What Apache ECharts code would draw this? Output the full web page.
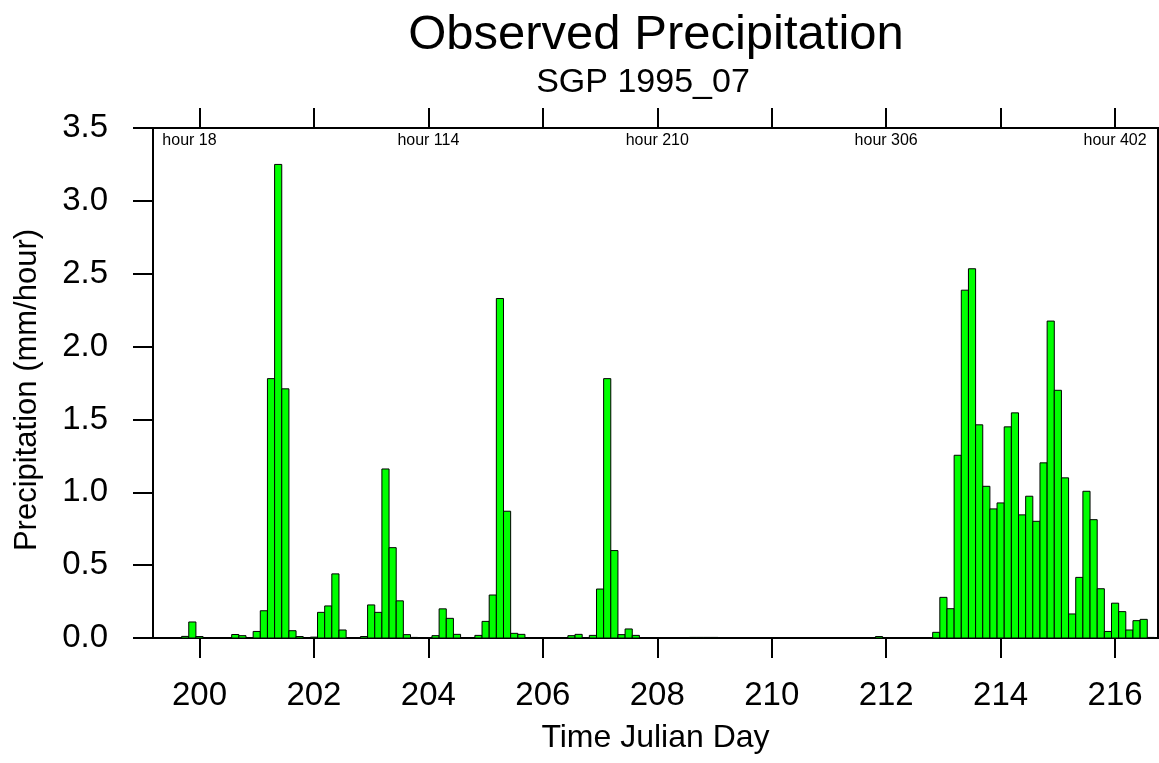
<!DOCTYPE html>
<html>
<head>
<meta charset="utf-8">
<title>Observed Precipitation</title>
<script src="https://cdn.jsdelivr.net/npm/echarts@6/dist/echarts.min.js"></script>
<style>
  html, body { margin: 0; padding: 0; background: #fff; }
  #chart { width: 1159px; height: 763px; }
</style>
</head>
<body>
<div id="chart"></div>
<script>
// 3-hourly bars, first bar centred on hour 0 (Julian day 199.25)
var startDay = 199.25;
var stepDay = 0.125;

// precipitation (mm/hour), one value per 3 hour bin
var precip = [
  0, 0, 0, 0, 0.011, 0.11, 0.01, 0, 0, 0,
  0, 0.024, 0.016, 0, 0.045, 0.187, 1.78, 3.25, 1.71, 0.05,
  0.01, 0, 0.006, 0.176, 0.22, 0.44, 0.055, 0, 0, 0.01,
  0.227, 0.176, 1.16, 0.62, 0.255, 0.023, 0.004, 0, 0, 0.016,
  0.2, 0.135, 0.025, 0, 0, 0.018, 0.114, 0.295, 2.33, 0.87,
  0.032, 0.025, 0, 0, 0, 0, 0, 0, 0.016, 0.025,
  0, 0.018, 0.336, 1.78, 0.6, 0.023, 0.062, 0.018, 0, 0,
  0, 0, 0, 0, 0, 0.004, 0.004, 0.004, 0.004, 0,
  0, 0, 0, 0, 0, 0, 0, 0, 0, 0,
  0, 0, 0, 0, 0, 0, 0, 0, 0, 0,
  0, 0.01, 0, 0, 0, 0, 0, 0, 0, 0.039,
  0.279, 0.201, 1.254, 2.387, 2.534, 1.463, 1.041, 0.886, 0.927, 1.449,
  1.545, 0.845, 0.973, 0.801, 1.202, 2.175, 1.70, 1.099, 0.165, 0.416,
  1.007, 0.812, 0.338, 0.045, 0.239, 0.181, 0.055, 0.119, 0.128, 0.004
];

var dayTicks = [200, 202, 204, 206, 208, 210, 212, 214, 216];
var hourLabelDays = [200, 204, 208, 212, 216];
var hourLabels = ['hour 18', 'hour 114', 'hour 210', 'hour 306', 'hour 402'];
var yTicks = ['0.0', '0.5', '1.0', '1.5', '2.0', '2.5', '3.0', '3.5'];

var font = "'Liberation Sans', Arial, Helvetica, sans-serif";

var barData = [];
for (var i = 0; i < precip.length; i++) {
  barData.push([startDay + i * stepDay, precip[i]]);
}

var chart = echarts.init(document.getElementById('chart'), null, {renderer: 'canvas'});

var option = {
  backgroundColor: '#fff',
  animation: false,
  title: [
    {
      text: 'Observed Precipitation',
      left: 651, top: 6, textAlign: 'center',
      textStyle: {fontFamily: font, fontSize: 49, fontWeight: 'normal', color: '#000'}
    },
    {
      text: 'SGP 1995_07',
      left: 638, top: 61, textAlign: 'center',
      textStyle: {fontFamily: font, fontSize: 34, fontWeight: 'normal', color: '#000'}
    }
  ],
  grid: {
    left: 153, right: 1, top: 128, bottom: 125,
    show: true, borderColor: '#000', borderWidth: 2, backgroundColor: 'transparent'
  },
  xAxis: [
    {
      type: 'value',
      position: 'bottom',
      min: 199.1875, max: 216.75,
      name: 'Time Julian Day',
      nameLocation: 'middle',
      nameGap: 84,
      nameTextStyle: {fontFamily: font, fontSize: 32, color: '#000'},
      axisLine: {show: true, onZero: false, lineStyle: {color: '#000', width: 2}},
      axisTick: {show: true, length: 20, customValues: dayTicks, lineStyle: {color: '#000', width: 2}},
      axisLabel: {
        customValues: dayTicks, margin: 41,
        fontFamily: font, fontSize: 33, color: '#000',
        formatter: function (v) { return String(Math.round(v)); }
      },
      splitLine: {show: false}
    },
    {
      type: 'value',
      position: 'top',
      min: 199.1875, max: 216.75,
      axisLine: {show: true, onZero: false, lineStyle: {color: '#000', width: 2}},
      axisTick: {show: true, length: 20, customValues: dayTicks, lineStyle: {color: '#000', width: 2}},
      axisLabel: {
        inside: true, margin: 5,
        customValues: hourLabelDays,
        fontFamily: font, fontSize: 16, color: '#000',
        formatter: function (v) {
          var idx = hourLabelDays.indexOf(Math.round(v));
          if (idx === 0) {
            return '{first|' + hourLabels[idx] + '}';
          }
          return idx >= 0 ? hourLabels[idx] : '';
        },
        rich: {
          first: {fontFamily: font, fontSize: 16, color: '#000', padding: [0, 20, 0, 0]}
        }
      },
      splitLine: {show: false}
    }
  ],
  yAxis: {
    type: 'value',
    min: 0, max: 3.5, interval: 0.5,
    name: 'Precipitation (mm/hour)',
    nameLocation: 'middle',
    nameGap: 110,
    nameTextStyle: {fontFamily: font, fontSize: 31, color: '#000', padding: [0, 14, 0, 0]},
    axisLine: {show: true, lineStyle: {color: '#000', width: 2}},
    axisTick: {show: true, length: 20, lineStyle: {color: '#000', width: 2}},
    axisLabel: {
      margin: 45, fontFamily: font, fontSize: 33, color: '#000',
      formatter: function (v) { return yTicks[Math.round(v / 0.5)]; }
    },
    splitLine: {show: false}
  },
  series: [
    {
      type: 'custom',
      coordinateSystem: 'cartesian2d',
      xAxisIndex: 0, yAxisIndex: 0,
      encode: {x: 0, y: 1},
      data: barData,
      renderItem: function (params, api) {
        var x = api.value(0);
        var v = api.value(1);
        if (!(v > 0)) {
          return null;
        }
        var p0 = api.coord([x - stepDay / 2, v]);
        var p1 = api.coord([x + stepDay / 2, 0]);
        return {
          type: 'rect',
          shape: {x: p0[0], y: p0[1], width: p1[0] - p0[0], height: p1[1] - p0[1]},
          style: {fill: '#00ff00', stroke: '#000', lineWidth: 1}
        };
      }
    }
  ]
};

chart.setOption(option);
</script>
</body>
</html>
